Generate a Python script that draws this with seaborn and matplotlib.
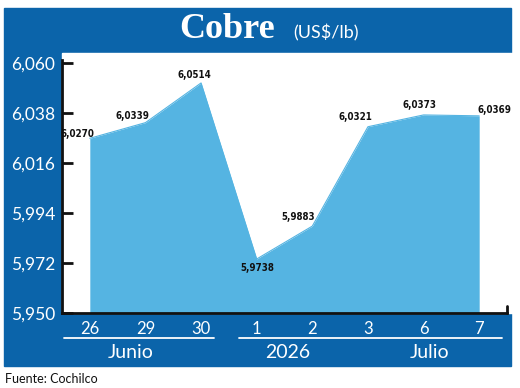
import numpy as np
import pandas as pd
import matplotlib
matplotlib.use("Agg")
import matplotlib.pyplot as plt
import seaborn as sns
from matplotlib.patches import Rectangle
from matplotlib.lines import Line2D

# data
days = ["26", "29", "30", "1", "2", "3", "6", "7"]
prices = [6.0270, 6.0339, 6.0514, 5.9738, 5.9883, 6.0321, 6.0373, 6.0369]
labels = ["6,0270", "6,0339", "6,0514", "5,9738", "5,9883", "6,0321", "6,0373", "6,0369"]
yticks = [5.950, 5.972, 5.994, 6.016, 6.038, 6.060]
ytick_labels = ["5,950", "5,972", "5,994", "6,016", "6,038", "6,060"]
groups = ["Junio", "2026", "Julio"]

# label offsets (points) so they sit like the original
offsets = [(-9, 3), (-9, 5), (-4.5, 5.5), (0.75, -6.5), (-10, 6.5), (-9, 7), (-3, 7.5), (11, 4)]

BLUE = "#0b64aa"
FILL = "#55b4e2"
W, H = 520, 388

sns.set_theme(style="white")
plt.rcParams["font.family"] = ["Lato", "DejaVu Sans"]

df = pd.DataFrame({"pos": np.arange(len(days)), "price": prices})

fig = plt.figure(figsize=(W / 100, H / 100), dpi=100)
fig.patch.set_facecolor("white")

def fx(px):
    return px / W

def fy(py):
    return 1 - py / H

# blue frame and white plot window (behind the axes)
fig.patches.append(Rectangle((fx(4), fy(366)), fx(507), (366 - 8) / H,
                             transform=fig.transFigure, color=BLUE, zorder=-2))
fig.patches.append(Rectangle((fx(62), fy(313)), fx(W - 62), (313 - 53) / H,
                             transform=fig.transFigure, color="white", zorder=-1))

ax = fig.add_axes([fx(62), fy(313), fx(445), (313 - 53) / H])
ax.set_facecolor("white")
ax.set_zorder(1)

ax.fill_between(df["pos"], df["price"], 5.90, color=FILL, lw=0, zorder=1)
sns.lineplot(data=df, x="pos", y="price", ax=ax, color=FILL, lw=0.8, zorder=2)

for i, (v, lab) in enumerate(zip(prices, labels)):
    ax.annotate(lab, (i, v), xytext=offsets[i], textcoords="offset points",
                ha="center", va="center", fontsize=7, fontweight="bold",
                fontstretch="condensed", family="DejaVu Sans", color="#111111")

ax.set_xlim(-0.5, 7.5)
ax.set_ylim(5.950, 6.0646)
ax.set_xticks(range(len(days)))
ax.set_xticklabels(days)
ax.set_yticks(yticks)
ax.set_yticklabels(ytick_labels)
ax.set_xlabel("")
ax.set_ylabel("")

for s in ["top", "right"]:
    ax.spines[s].set_visible(False)
for s in ["left", "bottom"]:
    ax.spines[s].set_visible(True)
    ax.spines[s].set_color("#111111")
    ax.spines[s].set_linewidth(2)
ax.spines["left"].set_bounds(5.950, 6.0615)

ax.tick_params(axis="y", direction="in", length=8, width=2, color="#111111",
               labelcolor="white", labelsize=12.5, pad=5, left=True)
ax.tick_params(axis="x", length=0, labelcolor="white", labelsize=12, pad=6)

# small end tick on the right of the base line
ax.plot([7.5, 7.5], [5.950, 5.953], color="#111111", lw=2, clip_on=False)

# group separators and labels
fig.lines.append(Line2D([fx(64), fx(214)], [fy(338), fy(338)], color="white", lw=1.3,
                        transform=fig.transFigure))
fig.lines.append(Line2D([fx(239), fx(502)], [fy(338), fy(338)], color="white", lw=1.3,
                        transform=fig.transFigure))
for name, xc in zip(groups, [131, 288, 430]):
    fig.text(fx(xc), fy(352), name, color="white", fontsize=14, ha="center", va="center")

# title
fig.text(fx(227), fy(38), "Cobre", color="white", fontsize=26, fontweight="bold",
         family=["Liberation Serif", "DejaVu Serif"], ha="center", va="baseline")
fig.text(fx(293), fy(38), "(US$/lb)", color="white", fontsize=13, ha="left", va="baseline")

fig.text(fx(5), fy(383), "Fuente: Cochilco", color="#111111", fontsize=9, ha="left",
         va="baseline")

fig.savefig("out.png", dpi=100)
